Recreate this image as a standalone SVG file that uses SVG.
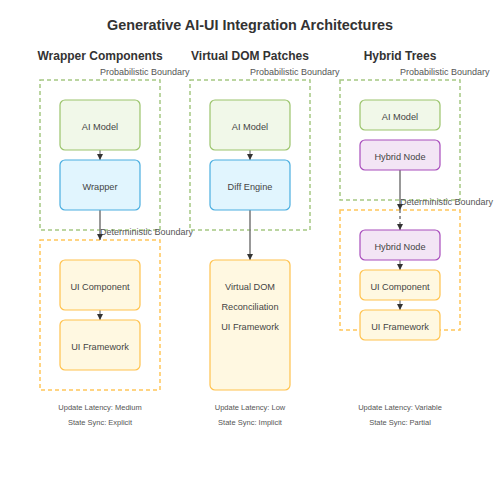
<svg xmlns="http://www.w3.org/2000/svg" width="500" height="500" viewBox="0 0 500 500">
<defs>
<style>
text{font-family:"Liberation Sans",Arial,sans-serif;fill:#444}
.title{font-size:14.4px;font-weight:bold;fill:#333}
.col{font-size:12px;font-weight:bold;fill:#333}
.bl{font-size:9px;fill:#555}
.nt{font-size:9.2px;fill:#444}
.ft{font-size:7.5px;fill:#555}
.prob{fill:none;stroke:#a5c882;stroke-width:1.5;stroke-dasharray:4,3}
.det{fill:none;stroke:#ffc65a;stroke-width:1.5;stroke-dasharray:4,3}
.ai{fill:#f1f8e9;stroke:#9bc46c;stroke-width:1.2}
.blue{fill:#e1f5fe;stroke:#4aaee0;stroke-width:1.2}
.ui{fill:#fff8e1;stroke:#ffc24d;stroke-width:1.2}
.hy{fill:#f3e5f5;stroke:#a84cbc;stroke-width:1.2}
.s{stroke:#555;stroke-width:1;fill:none}
.l{stroke:#777;stroke-width:1.5;fill:none}
.d{stroke:#777;stroke-width:1.5;fill:none;stroke-dasharray:3,3}
</style>
<marker id="ah" viewBox="0 0 10 10" refX="10" refY="5" markerWidth="6" markerHeight="6" markerUnits="userSpaceOnUse" orient="auto">
<path d="M0,0L10,5L0,10z" fill="#333"/>
</marker>
</defs>
<rect width="500" height="500" fill="#fff"/>
<text class="title" x="250" y="30" text-anchor="middle">Generative AI-UI Integration Architectures</text>
<text class="col" x="100" y="60" text-anchor="middle">Wrapper Components</text>
<text class="col" x="250" y="60" text-anchor="middle">Virtual DOM Patches</text>
<text class="col" x="400" y="60" text-anchor="middle">Hybrid Trees</text>

<g id="boundaries">
<rect class="prob" x="40" y="80" width="120" height="150"/>
<text class="bl" x="100" y="75">Probabilistic Boundary</text>
<rect class="det" x="40" y="240" width="120" height="150"/>
<text class="bl" x="100" y="235">Deterministic Boundary</text>
<rect class="prob" x="190" y="80" width="120" height="150"/>
<text class="bl" x="250" y="75">Probabilistic Boundary</text>
<rect class="prob" x="340" y="80" width="120" height="120"/>
<text class="bl" x="400" y="75">Probabilistic Boundary</text>
<rect class="det" x="340" y="210" width="120" height="120"/>
<text class="bl" x="400" y="205">Deterministic Boundary</text>
</g>

<g id="connectors">
<line class="s" x1="100" y1="150" x2="100" y2="160" marker-end="url(#ah)"/>
<line class="l" x1="100" y1="210" x2="100" y2="240" marker-end="url(#ah)"/>
<line class="s" x1="100" y1="310" x2="100" y2="320" marker-end="url(#ah)"/>
<line class="s" x1="250" y1="150" x2="250" y2="160" marker-end="url(#ah)"/>
<line class="l" x1="250" y1="210" x2="250" y2="260" marker-end="url(#ah)"/>
<line class="l" x1="400" y1="170" x2="400" y2="210" marker-end="url(#ah)"/>
<line class="d" x1="400" y1="210" x2="400" y2="230" marker-end="url(#ah)"/>
<line class="s" x1="400" y1="260" x2="400" y2="270" marker-end="url(#ah)"/>
<line class="s" x1="400" y1="300" x2="400" y2="310" marker-end="url(#ah)"/>
</g>

<g id="w-ai"><rect class="ai" x="60" y="100" width="80" height="50" rx="5"/><text class="nt" x="100" y="130" text-anchor="middle">AI Model</text></g>
<g id="w-wrapper"><rect class="blue" x="60" y="160" width="80" height="50" rx="5"/><text class="nt" x="100" y="190" text-anchor="middle">Wrapper</text></g>
<g id="w-uicomp"><rect class="ui" x="60" y="260" width="80" height="50" rx="5"/><text class="nt" x="100" y="290" text-anchor="middle">UI Component</text></g>
<g id="w-uifw"><rect class="ui" x="60" y="320" width="80" height="50" rx="5"/><text class="nt" x="100" y="350" text-anchor="middle">UI Framework</text></g>

<g id="v-ai"><rect class="ai" x="210" y="100" width="80" height="50" rx="5"/><text class="nt" x="250" y="130" text-anchor="middle">AI Model</text></g>
<g id="v-diff"><rect class="blue" x="210" y="160" width="80" height="50" rx="5"/><text class="nt" x="250" y="190" text-anchor="middle">Diff Engine</text></g>
<g id="v-vdom"><rect class="ui" x="210" y="260" width="80" height="130" rx="5"/>
<text class="nt" x="250" y="290" text-anchor="middle">Virtual DOM</text>
<text class="nt" x="250" y="310" text-anchor="middle">Reconciliation</text>
<text class="nt" x="250" y="330" text-anchor="middle">UI Framework</text></g>

<g id="h-ai"><rect class="ai" x="360" y="100" width="80" height="30" rx="5"/><text class="nt" x="400" y="120" text-anchor="middle">AI Model</text></g>
<g id="h-hybrid1"><rect class="hy" x="360" y="140" width="80" height="30" rx="5"/><text class="nt" x="400" y="160" text-anchor="middle">Hybrid Node</text></g>
<g id="h-hybrid2"><rect class="hy" x="360" y="230" width="80" height="30" rx="5"/><text class="nt" x="400" y="250" text-anchor="middle">Hybrid Node</text></g>
<g id="h-uicomp"><rect class="ui" x="360" y="270" width="80" height="30" rx="5"/><text class="nt" x="400" y="290" text-anchor="middle">UI Component</text></g>
<g id="h-uifw"><rect class="ui" x="360" y="310" width="80" height="30" rx="5"/><text class="nt" x="400" y="330" text-anchor="middle">UI Framework</text></g>

<g id="notes">
<text class="ft" x="100" y="410" text-anchor="middle">Update Latency: Medium</text>
<text class="ft" x="100" y="425" text-anchor="middle">State Sync: Explicit</text>
<text class="ft" x="250" y="410" text-anchor="middle">Update Latency: Low</text>
<text class="ft" x="250" y="425" text-anchor="middle">State Sync: Implicit</text>
<text class="ft" x="400" y="410" text-anchor="middle">Update Latency: Variable</text>
<text class="ft" x="400" y="425" text-anchor="middle">State Sync: Partial</text>
</g>
</svg>
